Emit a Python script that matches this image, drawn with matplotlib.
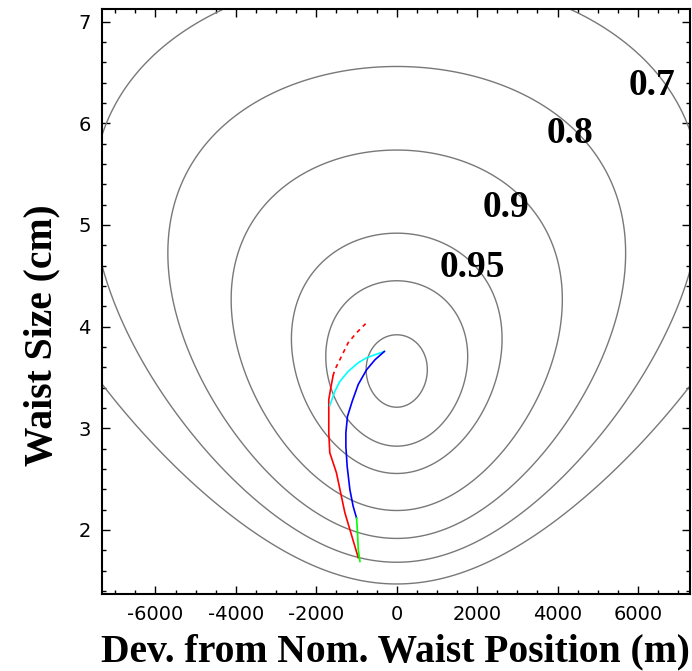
import numpy as np
import matplotlib
matplotlib.use('Agg')
import matplotlib.pyplot as plt
from matplotlib.ticker import MultipleLocator

plt.rcParams['axes.unicode_minus'] = False

w0 = 3.545
zR = 3770.
p_w = 1.76
levels = [0.5, 0.6, 0.7, 0.8, 0.9, 0.95, 0.99]

# labels of the contours (text, x, y)
lab_txt = ['0.7', '0.8', '0.9', '0.95']
lab_x = [6340, 4320, 2720, 1890]
lab_y = [6.37, 5.90, 5.17, 4.58]

# tracks
red_x = [-957, -1290, -1500, -1665, -1690, -1690, -1640, -1583]
red_y = [1.727, 2.169, 2.562, 2.759, 2.955, 3.280, 3.398, 3.516]
redd_x = [-1583, -1540, -1415, -1208, -1000, -775]
redd_y = [3.516, 3.575, 3.674, 3.841, 3.939, 4.028]
cyan_x = [-1665, -1540, -1415, -1208, -957, -750, -540, -308]
cyan_y = [3.224, 3.362, 3.460, 3.559, 3.644, 3.693, 3.723, 3.755]
blue_x = [-308, -540, -750, -957, -1108, -1225, -1265, -1265, -1233, -1165, -1083, -1000]
blue_y = [3.755, 3.674, 3.575, 3.431, 3.264, 3.116, 2.956, 2.821, 2.625, 2.395, 2.231, 2.117]
green_x = [-1000, -975, -957, -915]
green_y = [2.117, 1.972, 1.805, 1.690]


def main():
	fig = plt.figure(figsize=(6.92, 6.71), dpi=100)
	ax = fig.add_axes([0.1474, 0.1148, 0.8501, 0.8713])

	z = np.linspace(-7330, 7300, 500)
	w = np.linspace(1.37, 7.12, 500)
	Z, W = np.meshgrid(z, w)
	a = W / w0
	eta = 4. / ((a + 1. / a) ** 2 + (Z / zR) ** 2 / a ** p_w)
	ax.contour(Z, W, eta, levels=levels, colors=[(0.47, 0.47, 0.47)], linewidths=1.0)

	ax.plot(red_x, red_y, color='red', lw=1.2)
	ax.plot(redd_x, redd_y, color='red', lw=1.2, dashes=(2.5, 2.5))
	ax.plot(cyan_x, cyan_y, color='cyan', lw=1.2)
	ax.plot(blue_x, blue_y, color='blue', lw=1.2)
	ax.plot(green_x, green_y, color=(0, 1, 0), lw=1.2)

	for t, x, y in zip(lab_txt, lab_x, lab_y):
		ax.text(x, y, t, fontsize=27, fontweight='bold', family='Liberation Serif',
				ha='center', va='center')

	ax.set_xlim(-7330, 7300)
	ax.set_ylim(1.37, 7.12)
	ax.xaxis.set_major_locator(MultipleLocator(2000))
	ax.xaxis.set_minor_locator(MultipleLocator(500))
	ax.yaxis.set_major_locator(MultipleLocator(1))
	ax.yaxis.set_minor_locator(MultipleLocator(0.2))
	ax.tick_params(which='both', direction='in', top=True, right=True, width=1.0)
	ax.tick_params(which='major', length=6, labelsize=14, pad=8)
	ax.tick_params(which='minor', length=3)
	for s in ax.spines.values():
		s.set_linewidth(1.5)

	ax.set_xlabel('Dev. from Nom. Waist Position (m)', fontsize=28.5, fontweight='bold',
				  family='Liberation Serif')
	ax.set_ylabel('Waist Size (cm)', fontsize=28.5, fontweight='bold',
				  family='Liberation Serif')
	ax.xaxis.set_label_coords(0.498, -0.099)
	ax.yaxis.set_label_coords(-0.102, 0.443)
	ax.xaxis.label.set_va('center')
	ax.yaxis.label.set_va('center')

	fig.savefig('out.png', dpi=100)


if __name__ == "__main__":
	main()
